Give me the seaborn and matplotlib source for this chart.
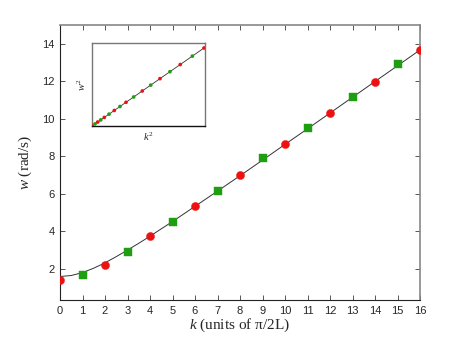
import numpy as np
import pandas as pd
import matplotlib
matplotlib.use("Agg")
import matplotlib.pyplot as plt
import seaborn as sns

# measured points
k_even = [0, 2, 4, 6, 8, 10, 12, 14, 16]
w_even = [1.40, 2.20, 3.77, 5.35, 6.99, 8.64, 10.32, 11.98, 13.67]
k_odd = [1, 3, 5, 7, 9, 11, 13, 15]
w_odd = [1.70, 2.90, 4.51, 6.16, 7.90, 9.50, 11.19, 12.92]

# fitted curve
k_curve = [0, 0.5, 1, 1.5, 2, 2.5, 3, 3.5, 4, 5, 6, 7, 8, 9, 10, 11, 12, 13, 14, 15, 16]
w_curve = [1.60, 1.655, 1.81, 2.045, 2.33, 2.66, 3.01, 3.37, 3.75, 4.53, 5.34, 6.15,
           6.97, 7.80, 8.64, 9.47, 10.31, 11.15, 11.99, 12.83, 13.67]

# inset (arbitrary units)
k2_even = [0, 5.1, 11.0, 19.9, 30.4, 44.9, 60.7, 78.8, 100.0]
w2_even = [0, 5.1, 11.0, 19.9, 30.4, 44.9, 60.7, 78.8, 100.0]
k2_odd = [2.7, 7.8, 15.2, 25.0, 37.2, 52.4, 69.6, 89.6]
w2_odd = [2.7, 7.8, 15.2, 25.0, 37.2, 52.4, 69.6, 89.6]

sns.set_style("ticks")
plt.rcParams["font.family"] = ["Liberation Sans", "DejaVu Sans"]
plt.rcParams["mathtext.fontset"] = "custom"
plt.rcParams["mathtext.it"] = "Liberation Serif:italic"
plt.rcParams["mathtext.rm"] = "Liberation Serif"

RED = "#ee1111"
GREEN = "#1e9e10"

fig = plt.figure(figsize=(4.63, 3.38), dpi=100)
ax = fig.add_axes([60 / 463, 1 - 300 / 338, 360 / 463, 275 / 338])

sns.lineplot(x=k_curve, y=w_curve, ax=ax, color="#333333", linewidth=0.7, zorder=2)
sns.scatterplot(x=k_even, y=w_even, ax=ax, color=RED, marker="o", s=34,
                edgecolor=RED, linewidth=0.3, zorder=3)
sns.scatterplot(x=k_odd, y=w_odd, ax=ax, color=GREEN, marker="s", s=26,
                edgecolor=GREEN, linewidth=0.3, zorder=3)

ax.set_xlim(0, 16)
ax.set_ylim(0.35, 15)
ax.set_xticks(range(0, 17))
ax.set_yticks([2, 4, 6, 8, 10, 12, 14])
ax.tick_params(direction="in", top=True, right=True, length=3.5, width=0.7,
               labelsize=8, color="#555555", pad=4)
for side in ["left", "bottom"]:
    ax.spines[side].set_color("#222222")
    ax.spines[side].set_linewidth(0.8)
for side in ["top", "right"]:
    ax.spines[side].set_visible(True)
    ax.spines[side].set_color("#888888")
    ax.spines[side].set_linewidth(1.2)

serif = ["Liberation Serif", "DejaVu Serif"]
ax.set_xlabel(r"$k$ (units of π/2L)", family=serif, fontsize=11, labelpad=1)
ax.set_ylabel(r"$w$ (rad/s)", family=serif, fontsize=11, labelpad=6)

# inset
ins = fig.add_axes([92 / 463, 1 - 126 / 338, 113 / 463, 83 / 338])
sns.lineplot(x=[0, 100.0], y=[0, 100.0], ax=ins, color="#333333", linewidth=0.6, zorder=2)
sns.scatterplot(x=k2_even, y=w2_even, ax=ins, color=RED, marker="o", s=7,
                edgecolor="none", zorder=3)
sns.scatterplot(x=k2_odd, y=w2_odd, ax=ins, color=GREEN, marker="o", s=7,
                edgecolor="none", zorder=3)
ins.set_xlim(0, 100.9)
ins.set_ylim(0, 106.4)
ins.set_xticks([])
ins.set_yticks([])
for side in ["left", "right", "top"]:
    ins.spines[side].set_visible(True)
    ins.spines[side].set_color("#777777")
    ins.spines[side].set_linewidth(1.0)
ins.spines["bottom"].set_color("#111111")
ins.spines["bottom"].set_linewidth(1.0)
ins.set_xlabel(r"$k^2$", family=serif, fontsize=7.5, labelpad=3)
ins.set_ylabel(r"$w^2$", family=serif, fontsize=7.5, labelpad=3)

fig.savefig("out.png", dpi=100)
